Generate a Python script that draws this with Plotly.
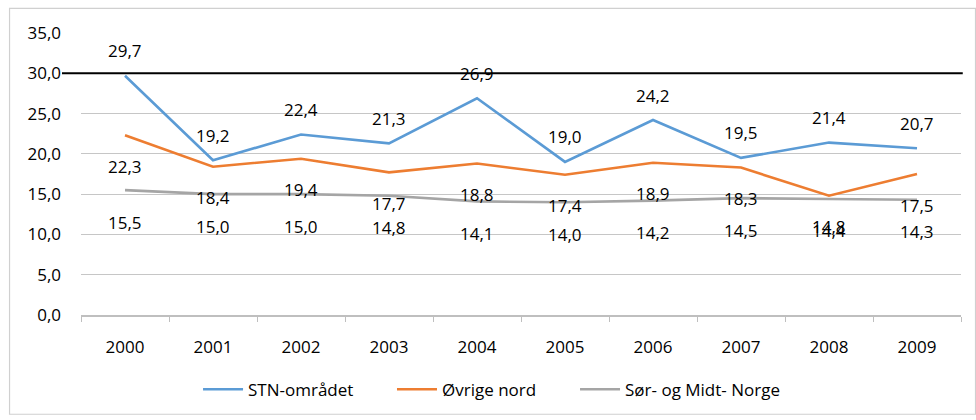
import plotly.graph_objects as go

years = ["2000", "2001", "2002", "2003", "2004", "2005", "2006", "2007", "2008", "2009"]
stn = [29.7, 19.2, 22.4, 21.3, 26.9, 19.0, 24.2, 19.5, 21.4, 20.7]
ovrige = [22.3, 18.4, 19.4, 17.7, 18.8, 17.4, 18.9, 18.3, 14.8, 17.5]
sor = [15.5, 15.0, 15.0, 14.8, 14.1, 14.0, 14.2, 14.5, 14.4, 14.3]
names = ["STN-området", "Øvrige nord", "Sør- og Midt- Norge"]
colors = ["#5B9BD5", "#ED7D31", "#A5A5A5"]
label_shift = [25, -31, -32]
ref_value = 30

FONT = "Open Sans, Liberation Sans, sans-serif"
FS = 17

fig = go.Figure()
series = [stn, ovrige, sor]
legend_ids = ["legend", "legend2", "legend3"]
legend_x = [0.1330, 0.3534, 0.5614]
for vals, name, col, lid in zip(series, names, colors, legend_ids):
    fig.add_trace(go.Scatter(x=years, y=vals, mode="lines", name=name, legend=lid,
                             line=dict(color=col, width=2.6)))

annotations = []
for vals, shift in zip(series, label_shift):
    for i, v in enumerate(vals):
        annotations.append(dict(x=i, y=v, xref="x", yref="y",
                                text=f"{v:.1f}".replace(".", ","),
                                showarrow=False, yshift=shift,
                                font=dict(family=FONT, size=FS, color="black")))

legend_style = dict(orientation="h", xanchor="left", y=-0.265, yanchor="middle",
                    font=dict(family=FONT, size=FS, color="black"),
                    itemwidth=40, bgcolor="rgba(0,0,0,0)")

fig.update_layout(
    width=976, height=420,
    margin=dict(l=81, r=15, t=33, b=101),
    paper_bgcolor="white", plot_bgcolor="white",
    separators=",.",
    font=dict(family=FONT, size=FS, color="black"),
    showlegend=True,
    legend=dict(x=legend_x[0], **legend_style),
    legend2=dict(x=legend_x[1], **legend_style),
    legend3=dict(x=legend_x[2], **legend_style),
    annotations=annotations,
    shapes=[
        dict(type="line", xref="paper", yref="y", x0=-0.0216, x1=1.002,
             y0=ref_value, y1=ref_value, line=dict(color="black", width=2)),
        dict(type="rect", xref="paper", yref="paper", x0=-0.0812, x1=1.0165,
             y0=-0.352, y1=1.0874, line=dict(color="#D0D0D0", width=1.2),
             layer="below"),
    ],
)
fig.update_xaxes(type="category", categoryorder="array", categoryarray=years,
                 range=[-0.5, len(years) - 0.5],
                 showgrid=False, showline=True, linecolor="#BFBFBF",
                 linewidth=1.5, ticks="outside", tickson="boundaries", ticklen=5,
                 tickcolor="#BFBFBF", tickfont=dict(family=FONT, size=FS, color="black"),
                 ticklabelstandoff=16)
fig.update_yaxes(range=[0, 35], dtick=5, tickformat=".1f", showgrid=True,
                 gridcolor="#C6C6C6", gridwidth=1.2, zeroline=False, showline=False,
                 ticks="", tickfont=dict(family=FONT, size=FS, color="black"),
                 ticklabelstandoff=19)

fig.write_html("out.html", config={"displayModeBar": False},
               post_script="document.body.style.margin='0';")
